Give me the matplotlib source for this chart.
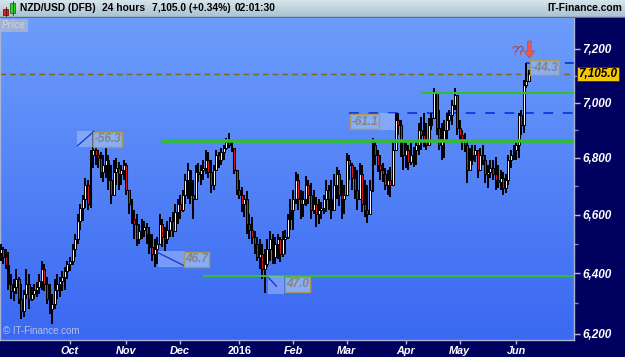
import matplotlib
matplotlib.use("Agg")
import matplotlib.pyplot as plt
import matplotlib.transforms as mtransforms
from matplotlib.colors import LinearSegmentedColormap
from matplotlib.patches import Rectangle
from matplotlib.ticker import FixedLocator, NullFormatter
import numpy as np
import pandas as pd

plt.rcParams['font.family'] = ['Liberation Sans', 'DejaVu Sans']

# Daily bars NZD/USD (DFB), price x 10000
start_date = "2015-08-25"
first_open = 6470
highs = [
    6498, 6488, 6481, 6471, 6397, 6380, 6413, 6387, 6363, 6346,
    6413, 6397, 6353, 6363, 6370, 6397, 6440, 6430, 6387, 6363,
    6330, 6380, 6397, 6387, 6407, 6420, 6440, 6454, 6498, 6532,
    6601, 6636, 6670, 6730, 6723, 6829, 6897, 6836, 6829, 6822,
    6811, 6836, 6811, 6776, 6794, 6801, 6787, 6776, 6794, 6783,
    6688, 6653, 6618, 6601, 6567, 6584, 6577, 6570, 6556, 6532,
    6515, 6522, 6601, 6584, 6556, 6577, 6591, 6608, 6636, 6653,
    6670, 6688, 6741, 6783, 6758, 6723, 6776, 6783, 6776, 6794,
    6829, 6822, 6794, 6776, 6829, 6822, 6836, 6847, 6872, 6890,
    6865, 6836, 6758, 6723, 6698, 6670, 6681, 6601, 6591, 6543,
    6522, 6515, 6498, 6481, 6515, 6543, 6532, 6522, 6532, 6522,
    6543, 6549, 6601, 6653, 6688, 6748, 6741, 6688, 6681, 6734,
    6723, 6712, 6688, 6663, 6653, 6643, 6670, 6723, 6705, 6723,
    6741, 6769, 6758, 6723, 6705, 6819, 6811, 6783, 6769, 6758,
    6783, 6776, 6723, 6705, 6723, 6872, 6865, 6829, 6811, 6783,
    6765, 6758, 6769, 6865, 6963, 6963, 6937, 6865, 6854, 6847,
    6854, 6840, 6865, 6926, 6948, 6963, 6926, 6944, 6963, 7054,
    7039, 6974, 6926, 6937, 6963, 6974, 7010, 7054, 7028, 6937,
    6901, 6890, 6865, 6836, 6847, 6847, 6829, 6836, 6847, 6811,
    6776, 6794, 6794, 6804, 6776, 6758, 6751, 6741, 6811, 6829,
    6847, 6865, 6963, 6974, 7084, 7147, 7121,
]
lows = [
    6440, 6430, 6413, 6346, 6313, 6307, 6330, 6297, 6247, 6254,
    6313, 6280, 6307, 6313, 6320, 6330, 6346, 6340, 6297, 6264,
    6231, 6280, 6313, 6320, 6340, 6346, 6380, 6407, 6427, 6454,
    6498, 6549, 6577, 6625, 6618, 6625, 6765, 6776, 6765, 6730,
    6716, 6730, 6688, 6636, 6670, 6705, 6688, 6705, 6723, 6670,
    6601, 6567, 6515, 6491, 6498, 6515, 6522, 6498, 6464, 6440,
    6423, 6430, 6498, 6488, 6474, 6498, 6522, 6525, 6543, 6567,
    6584, 6611, 6636, 6653, 6636, 6584, 6688, 6716, 6705, 6723,
    6741, 6730, 6677, 6688, 6758, 6765, 6776, 6794, 6829, 6836,
    6822, 6741, 6670, 6653, 6611, 6591, 6532, 6515, 6498, 6464,
    6440, 6413, 6380, 6336, 6420, 6440, 6430, 6430, 6447, 6437,
    6454, 6464, 6515, 6549, 6549, 6636, 6618, 6584, 6591, 6629,
    6636, 6584, 6601, 6556, 6567, 6584, 6601, 6608, 6618, 6584,
    6618, 6653, 6629, 6584, 6601, 6665, 6723, 6688, 6653, 6618,
    6653, 6608, 6591, 6573, 6601, 6680, 6776, 6748, 6723, 6716,
    6688, 6670, 6663, 6700, 6829, 6883, 6804, 6758, 6765, 6758,
    6776, 6769, 6776, 6811, 6829, 6840, 6829, 6865, 6901, 6940,
    6883, 6829, 6794, 6801, 6865, 6901, 6919, 6974, 6883, 6865,
    6829, 6822, 6712, 6758, 6776, 6787, 6730, 6765, 6776, 6712,
    6695, 6730, 6723, 6688, 6695, 6688, 6670, 6677, 6705, 6765,
    6794, 6794, 6801, 6883, 6890, 7054, 7075,
]
closes = [
    6481, 6454, 6427, 6363, 6340, 6353, 6380, 6313, 6274, 6330,
    6363, 6313, 6330, 6346, 6353, 6373, 6413, 6363, 6313, 6280,
    6297, 6346, 6363, 6373, 6387, 6407, 6430, 6440, 6481, 6515,
    6577, 6625, 6653, 6705, 6636, 6811, 6829, 6811, 6801, 6751,
    6776, 6794, 6723, 6670, 6751, 6765, 6741, 6758, 6776, 6688,
    6636, 6584, 6567, 6515, 6543, 6549, 6556, 6532, 6488, 6464,
    6481, 6498, 6567, 6522, 6515, 6549, 6577, 6543, 6611, 6636,
    6618, 6670, 6723, 6758, 6670, 6653, 6751, 6741, 6758, 6765,
    6794, 6751, 6705, 6758, 6811, 6794, 6822, 6836, 6858, 6847,
    6836, 6758, 6688, 6670, 6636, 6653, 6567, 6549, 6522, 6498,
    6454, 6464, 6413, 6430, 6481, 6515, 6454, 6498, 6515, 6464,
    6515, 6522, 6584, 6618, 6653, 6723, 6653, 6636, 6653, 6705,
    6670, 6618, 6636, 6601, 6618, 6625, 6653, 6688, 6653, 6618,
    6705, 6741, 6670, 6653, 6670, 6794, 6776, 6730, 6688, 6653,
    6741, 6636, 6618, 6601, 6688, 6847, 6811, 6776, 6758, 6741,
    6705, 6723, 6705, 6829, 6937, 6919, 6865, 6811, 6829, 6787,
    6811, 6829, 6847, 6901, 6883, 6865, 6847, 6919, 6944, 7039,
    6908, 6847, 6865, 6901, 6937, 6955, 6992, 7028, 6908, 6883,
    6865, 6847, 6758, 6794, 6811, 6829, 6758, 6811, 6794, 6741,
    6751, 6765, 6741, 6723, 6716, 6730, 6695, 6723, 6794, 6811,
    6829, 6847, 6955, 6919, 7065, 7081, 7105,
]

last_price = 7105.0
y_ticks = [6200, 6400, 6600, 6800, 7000, 7200]
y_minor = [6300, 6500, 6700, 6900, 7100]
tick_months = [(2015, 10, "Oct"), (2015, 11, "Nov"), (2015, 12, "Dec"), (2016, 1, "2016"),
               (2016, 2, "Feb"), (2016, 3, "Mar"), (2016, 4, "Apr"), (2016, 5, "May"), (2016, 6, "Jun")]

# drawn support / resistance lines: level, first bar, width
green_levels = [7035, 6860, 6390]
green_starts = [164, 63, 79]
green_widths = [1.5, 2.6, 1.5]
blue_levels = [6962, 7147]
blue_starts = [136, 205]

# measurement tool labels: text, bar, price
measure_text = ["-56.3", "46.7", "-61.1", "47.0", "-44.3"]
measure_x = [41.8, 76.3, 141.9, 115.8, 212.1]
measure_y = [6866, 6447, 6931, 6363, 7130]
# shaded squares: x0, x1, y0, y1
measure_boxes = [(29.7, 36.8, 6840, 6897), (61.3, 71.9, 6420, 6474),
                 (147.6, 153.8, 6901, 6963), (104.2, 110.5, 6330, 6390)]
measure_lines = [((29.9, 36.3), (6843, 6895)), ((61.3, 71.9), (6470, 6424)),
                 ((104.5, 107.5), (6385, 6357))]

n = len(closes)
dates = pd.bdate_range(start_date, periods=n)
x = np.arange(n)
o = np.array([first_open] + closes[:-1], dtype=float)
c = np.array(closes, dtype=float)
h = np.array(highs, dtype=float)
l = np.array(lows, dtype=float)

navy = "#00005e"
fig = plt.figure(figsize=(6.25, 3.57), dpi=100)
fig.patch.set_facecolor(navy)

rect = [0, 0.0476, 0.9184, 0.902]
bg = fig.add_axes(rect, zorder=0)
grad = np.linspace(1, 0, 256).reshape(-1, 1)
cmap = LinearSegmentedColormap.from_list("bg", ["#3a68f2", "#6c9dfb"])
bg.imshow(grad, aspect="auto", cmap=cmap, extent=[0, 1, 0, 1])
bg.axis("off")

ax = fig.add_axes(rect, zorder=1)
ax.patch.set_alpha(0)
ax.set_yscale("log")

# candles
ax.vlines(x, l, h, color="black", lw=1.4, zorder=3)
body_h = np.maximum(np.abs(c - o), 2)
colors = np.where(c >= o, "white", "#e01818")
ax.bar(x, body_h, bottom=np.minimum(o, c), width=0.75, color=colors,
       edgecolor="black", linewidth=0.75, zorder=4)

# lines
for lev, st, lw in zip(green_levels, green_starts, green_widths):
    ax.hlines(lev, st, 230, color="#2fbf2f", lw=lw, zorder=5)
for lev, st in zip(blue_levels, blue_starts):
    ax.hlines(lev, st, 230, color="#1a3ae0", lw=1.4, linestyles=(0, (5, 5)), zorder=2)
ax.axhline(last_price, color="#7a6a10", lw=1.0, ls=(0, (4, 3)), zorder=2)

# measurement tools
for (x0, x1, y0, y1) in measure_boxes:
    ax.add_patch(Rectangle((x0, y0), x1 - x0, y1 - y0, facecolor="#b8ccff",
                           alpha=0.45, edgecolor="none", zorder=6))
for xs, ys in measure_lines:
    ax.plot(xs, ys, color="#1f3cc8", lw=1.0, zorder=6)
for t, mx, my in zip(measure_text, measure_x, measure_y):
    ax.text(mx, my, t, ha="center", va="center", fontsize=8.5, fontweight="bold",
            fontstyle="italic", color="#85857e", zorder=7,
            bbox=dict(boxstyle="square,pad=0.1", facecolor="#88aef8",
                      edgecolor="#a8985a", linewidth=1.0))

ax.text(201.8, 7190, "??", ha="center", va="center", fontsize=8.5,
        color="#b03535", zorder=7)
ax.annotate("", xy=(206.2, 7166), xytext=(206.2, 7230),
            arrowprops=dict(facecolor="#e85a50", edgecolor="#c04040", width=2.5,
                            headwidth=8, headlength=5, lw=0.4), zorder=7)

# axes
ax.set_xlim(-0.31, 223.6)
ax.set_ylim(6180, 7318)
ax.yaxis.tick_right()
ax.yaxis.set_major_locator(FixedLocator(y_ticks))
ax.yaxis.set_minor_locator(FixedLocator(y_minor))
ax.yaxis.set_minor_formatter(NullFormatter())
ax.set_yticklabels([f"{v:,}" for v in y_ticks])
ax.tick_params(axis="y", which="major", colors="#b8bcd0", labelcolor="white",
               length=4, width=1, pad=2, labelsize=8.5)
ax.tick_params(axis="y", which="minor", colors="#8088b0", length=3, width=1)
for lab in ax.get_yticklabels():
    lab.set_fontweight("bold")
    lab.set_fontstyle("italic")

tick_pos = []
tick_lab = []
for yr, mo, name in tick_months:
    idx = np.where((dates.year == yr) & (dates.month == mo))[0]
    tick_pos.append(idx[0])
    tick_lab.append(name)
ax.set_xticks(tick_pos)
ax.set_xticklabels(tick_lab)
ax.tick_params(axis="x", colors="#b8bcd0", labelcolor="white", length=3,
               width=1, pad=1, labelsize=7.8)
for lab in ax.get_xticklabels():
    lab.set_fontweight("bold")
    if lab.get_text() != "2016":
        lab.set_fontstyle("italic")

for side, sp in ax.spines.items():
    sp.set_color("#a8b4d4")
    sp.set_linewidth(1.0)
ax.spines["top"].set_visible(False)

# current price tag
trans = mtransforms.blended_transform_factory(ax.transAxes, ax.transData)
ax.text(1.008, last_price, "7,105.0", transform=trans, ha="left", va="center",
        fontsize=8.5, fontweight="bold", fontstyle="italic", color="black",
        clip_on=False, zorder=10,
        bbox=dict(boxstyle="square,pad=0.1", facecolor="#f6c600",
                  edgecolor="#303030", linewidth=0.6))

ax.text(0.004, 0.993, "Price", transform=ax.transAxes, ha="left", va="top",
        fontsize=7, fontstyle="italic", fontweight="bold", color="#c4ccd8",
        bbox=dict(boxstyle="square,pad=0.15", facecolor="#a4b4d4",
                  edgecolor="none", alpha=0.9), zorder=10)
ax.text(0.005, 0.012, "\u00a9 IT-Finance.com", transform=ax.transAxes,
        ha="left", va="bottom", fontsize=7, color="#c8d0e0", alpha=0.85, zorder=10)

# header bar
hax = fig.add_axes([0, 0.9496, 1, 0.0504], zorder=2)
hcmap = LinearSegmentedColormap.from_list("hd", ["#a8c0ce", "#d6e4ec"])
hax.imshow(np.linspace(0, 1, 64).reshape(-1, 1), aspect="auto", cmap=hcmap,
           extent=[0, 625, 18, 0], origin="lower")
hax.set_xlim(0, 625)
hax.set_ylim(18, 0)
hax.axhline(17.5, color="#5c7080", lw=1)
hax.add_patch(Rectangle((3, 9), 5, 6, facecolor="#e02020", edgecolor="#600000", lw=0.5))
hax.plot([5.5, 5.5], [7, 16.5], color="#600000", lw=0.6)
hax.add_patch(Rectangle((10, 3), 5, 10, facecolor="#30d030", edgecolor="#006000", lw=0.5))
hax.plot([12.5, 12.5], [1, 15], color="#006000", lw=0.6)
hdr = dict(fontsize=7.4, fontweight="bold", color="black", va="center", ha="left")
hax.text(20, 8, "NZD/USD (DFB)", **hdr)
hax.text(102, 8, "24 hours", **hdr)
hax.text(152, 8, "7,105.0 (+0.34%)", **hdr)
hax.text(235, 8, "02:01:30", **hdr)
hax.text(622, 8, "IT-Finance.com", fontsize=7.4, fontweight="bold", color="black",
         va="center", ha="right")
hax.axis("off")

fig.savefig("out.png", dpi=100, facecolor=fig.get_facecolor())
